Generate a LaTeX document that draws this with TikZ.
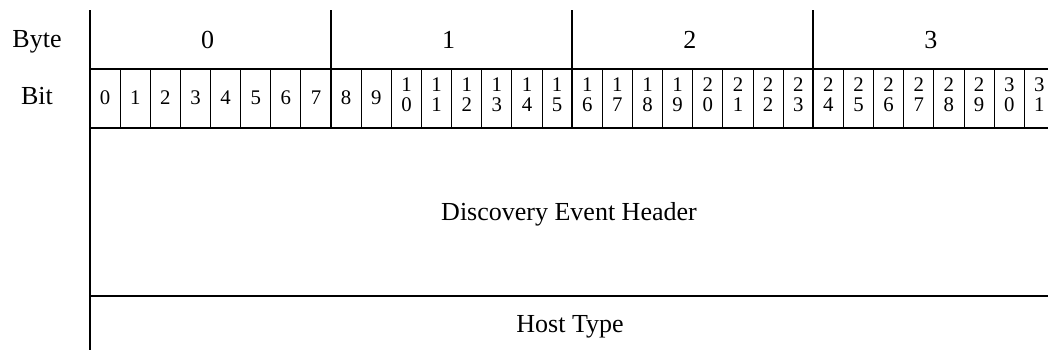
\documentclass[tikz,border=0pt]{standalone}
\usepackage{fontspec}
\setmainfont{Liberation Serif}
\begin{document}
\begin{tikzpicture}[x=0.5pt,y=-0.5pt,
  heavy/.style={line width=1pt},
  light/.style={line width=0.5pt},
  lbl/.style={anchor=base,inner sep=0pt,font=\fontsize{13}{15.6}\selectfont},
  bitlbl/.style={anchor=base,inner sep=0pt,font=\fontsize{10.4}{10.4}\selectfont}]
\useasboundingbox (0,0) rectangle (1048,350);
\clip (0,0) rectangle (1048,350);
% thin bit separators
\foreach \i in {1,...,31} \draw[light] ({90+30.1375*\i},69) -- ({90+30.1375*\i},128);
% byte separators and left edge
\draw[heavy] (90,10) -- (90,350);
\foreach \b in {1,2,3,4} \draw[heavy] ({90+241.1*\b},10) -- ({90+241.1*\b},128);
% horizontal rules
\draw[heavy] (90,69) -- (1070,69);
\draw[heavy] (90,128) -- (1070,128);
\draw[heavy] (90,296) -- (1070,296);
% row labels
\node[lbl] (bytehdr) at (37,47) {Byte};
\node[lbl] (bithdr) at (37,104) {Bit};
% byte numbers
\foreach \b in {0,1,2,3} \node[lbl] (byte\b) at ({90+241.1*\b+120.55-3},48) {\b};
% bit numbers
\foreach \i in {0,...,9} \node[bitlbl] (bit\i) at ({90+30.1375*(\i+0.5)},104) {\i};
\foreach \i in {10,...,31}{
  \pgfmathtruncatemacro\tens{int(\i/10)}
  \pgfmathtruncatemacro\ones{mod(\i,10)}
  \node[bitlbl] (bit\i) at ({90+30.1375*(\i+0.5)},111)
    {\vbox{\baselineskip=10pt\lineskiplimit=-20pt\hbox{\tens}\hbox{\ones}}};
}
% fields
\node[lbl] (deh) at (569,220) {Discovery Event Header};
\node[lbl] (host) at (570,332) {Host Type};
\end{tikzpicture}
\end{document}
